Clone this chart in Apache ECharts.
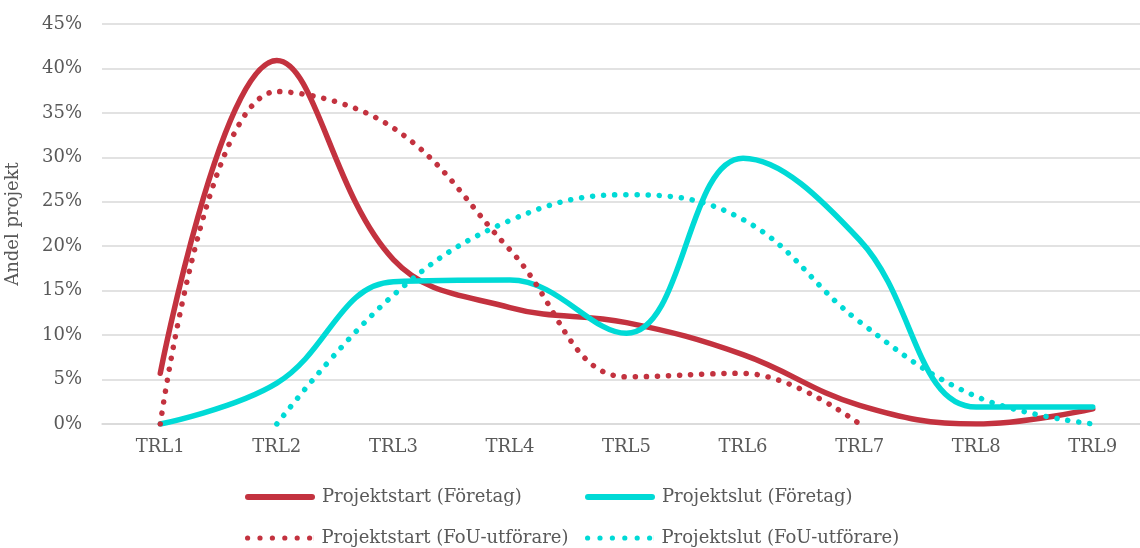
<!DOCTYPE html>
<html>
<head>
<meta charset="utf-8">
<script src="https://cdn.jsdelivr.net/npm/echarts@6/dist/echarts.min.js"></script>
<style>
  html, body { margin: 0; padding: 0; background: #fff; }
  #chart { width: 1140px; height: 548px; }
</style>
</head>
<body>
<div id="chart"></div>
<script>
// Categories and values (percent of projects)
const categories = ['TRL1', 'TRL2', 'TRL3', 'TRL4', 'TRL5', 'TRL6', 'TRL7', 'TRL8', 'TRL9'];
const startForetag = [5.7, 40.9, 18.5, 13.1, 11.4, 7.8, 2.1, 0, 1.7];
const slutForetag = [0, 4.6, 16, 16.2, 10.2, 29.9, 20.7, 1.9, 1.9];
const startFoU = [0, 37.4, 33.3, 19.6, 5.3, 5.7, 0, null, null];
const slutFoU = [null, 0, 14.5, 22.9, 25.8, 23, 11.5, 3.1, 0];
const seriesNames = [
  'Projektstart (Företag)',
  'Projektslut (Företag)',
  'Projektstart (FoU-utförare)',
  'Projektslut (FoU-utförare)'
];

const RED = '#C3323F';
const CYAN = '#00DAD6';
const TEXT = '#595959';
const FONT = '"DejaVu Serif", Georgia, serif';

const DOTS = [0.1, 11];

// legend icons: a thick rounded bar and a row of dots
const ICON_SOLID = 'path://M3,0 L67,0 A3,3 0 0,1 67,6 L3,6 A3,3 0 0,1 3,0 Z';
let dotPath = 'path://';
for (let i = 0; i < 6; i++) {
  const x = 1 + i * 12.4;
  dotPath += 'M' + x + ',3 a2.6,2.6 0 1,0 5.2,0 a2.6,2.6 0 1,0 -5.2,0 Z ';
}
dotPath += 'M69.9,0 L70,0 L70,6 L69.9,6 Z';
const ICON_DOTS = dotPath;

function lineSeries(name, data, color, dotted) {
  return {
    name: name,
    type: 'line',
    data: data,
    smooth: 0.4,
    symbol: 'none',
    showSymbol: false,
    connectNulls: false,
    itemStyle: { color: color },
    lineStyle: {
      color: color,
      width: 5.5,
      type: dotted ? DOTS : 'solid',
      cap: 'round'
    }
  };
}

function legendAt(name, icon, left, top) {
  return {
    data: [{ name: name, icon: icon }],
    left: left,
    top: top,
    itemWidth: 70,
    itemHeight: 6,
    itemGap: 0,
    padding: 0,
    textStyle: { color: TEXT, fontFamily: FONT, fontSize: 18, lineHeight: 20, padding: [0, 0, 0, 2] }
  };
}

const chart = echarts.init(document.getElementById('chart'));
chart.setOption({
  animation: false,
  backgroundColor: '#fff',
  textStyle: { fontFamily: FONT },
  legend: [
    legendAt(seriesNames[0], ICON_SOLID, 245, 487),
    legendAt(seriesNames[1], ICON_SOLID, 585, 487),
    legendAt(seriesNames[2], ICON_DOTS, 245, 528),
    legendAt(seriesNames[3], ICON_DOTS, 585, 528)
  ],
  grid: { left: 102, right: -11, top: 24, bottom: 124, containLabel: false, outerBoundsMode: 'none' },
  xAxis: {
    type: 'category',
    data: categories,
    boundaryGap: true,
    axisLine: { show: true, lineStyle: { color: '#d9d9d9', width: 1.5 } },
    axisTick: { show: false },
    axisLabel: { color: TEXT, fontFamily: FONT, fontSize: 18, margin: 14 }
  },
  yAxis: {
    type: 'value',
    min: 0,
    max: 45,
    interval: 5,
    name: 'Andel projekt',
    nameLocation: 'middle',
    nameGap: 80,
    nameTextStyle: { color: TEXT, fontFamily: FONT, fontSize: 18 },
    axisLine: { show: false },
    axisTick: { show: false },
    axisLabel: { color: TEXT, fontFamily: FONT, fontSize: 18, margin: 20, formatter: '{value}%' },
    splitLine: { lineStyle: { color: '#d9d9d9', width: 1.5 } }
  },
  series: [
    lineSeries(seriesNames[0], startForetag, RED, false),
    lineSeries(seriesNames[1], slutForetag, CYAN, false),
    lineSeries(seriesNames[2], startFoU, RED, true),
    lineSeries(seriesNames[3], slutFoU, CYAN, true)
  ]
});
</script>
</body>
</html>
